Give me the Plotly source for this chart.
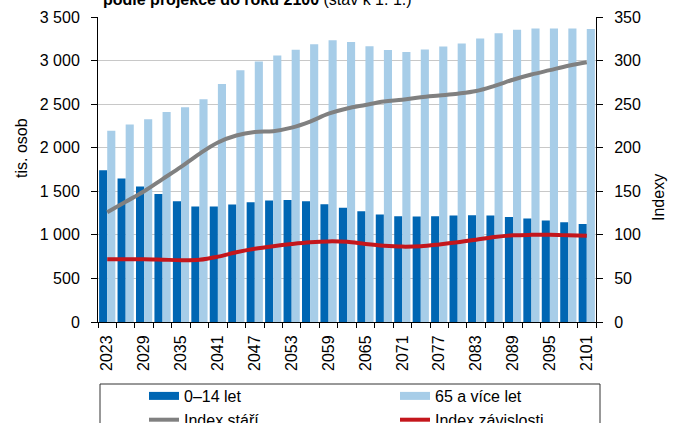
import plotly.graph_objects as go

years = [2023, 2026, 2029, 2032, 2035, 2038, 2041, 2044, 2047, 2050, 2053, 2056, 2059,
         2062, 2065, 2068, 2071, 2074, 2077, 2080, 2083, 2086, 2089, 2092, 2095, 2098, 2101]
tick_years = [2023, 2029, 2035, 2041, 2047, 2053, 2059, 2065, 2071, 2077, 2083, 2089, 2095, 2101]

kids_0_14 = [1741, 1646, 1555, 1470, 1386, 1325, 1325, 1348, 1375, 1394, 1401, 1386, 1352,
             1312, 1272, 1234, 1214, 1211, 1214, 1222, 1226, 1222, 1206, 1188, 1165, 1146, 1126]
seniors_65 = [2196, 2265, 2326, 2409, 2463, 2555, 2730, 2890, 2990, 3059, 3124, 3188, 3234,
              3213, 3165, 3122, 3097, 3128, 3162, 3196, 3253, 3314, 3353, 3368, 3368, 3368, 3361]
index_stari = [126, 138, 150, 164, 178, 193, 206, 214, 218, 219, 223, 230, 239,
               245, 249, 253, 255, 258, 260, 262, 265, 271, 278, 284, 289, 294, 298]
index_zavislosti = [72, 72, 72, 71.5, 71, 71.5, 75, 80, 84, 87, 89.5, 91.5, 92.5,
                    92, 89.5, 87.5, 86.5, 87, 89, 91.5, 94.5, 97.5, 99.5, 100, 100, 99.5, 99]

DARK = "#0066B3"
LIGHT = "#A7CDE8"
GRAY = "#808080"
RED = "#C4161C"
FONT = "Arial, 'Liberation Sans', sans-serif"

fig = go.Figure()
fig.add_bar(x=years, y=kids_0_14, name="0–14 let", marker=dict(color=DARK, line=dict(width=0)),
            showlegend=False)
fig.add_bar(x=years, y=seniors_65, name="65 a více let", marker=dict(color=LIGHT, line=dict(width=0)),
            showlegend=False)
fig.add_scatter(x=years, y=index_stari, yaxis="y2", mode="lines", name="Index stáří",
                line=dict(color=GRAY, width=4, shape="spline"), showlegend=False)
fig.add_scatter(x=years, y=index_zavislosti, yaxis="y2", mode="lines", name="Index závislosti",
                line=dict(color=RED, width=4, shape="spline"), showlegend=False)

# legend entries (two columns -> two legends)
for name, col, w, lg in [("0–14 let", DARK, 8, "legend"), ("Index stáří", GRAY, 4, "legend"),
                         ("65 a více let", LIGHT, 8, "legend2"),
                         ("Index závislosti", RED, 4, "legend2")]:
    fig.add_scatter(x=[None], y=[None], mode="lines", name=name, legend=lg,
                    line=dict(color=col, width=w), showlegend=True, hoverinfo="skip")

L, R, T, B = 98, 77, 17, 101
W, H = 673, 423
pw, ph = W - L - R, H - T - B


def px_x(p):
    return (p - L) / pw


def px_y(p):
    return (H - B - p) / ph


legend_common = dict(orientation="v", xanchor="left", y=px_y(379), yanchor="top",
                     bgcolor="rgba(0,0,0,0)", borderwidth=0, font=dict(size=16),
                     tracegroupgap=0, itemsizing="trace")

fig.update_layout(
    width=W, height=H,
    margin=dict(l=L, r=R, t=T, b=B, autoexpand=False),
    paper_bgcolor="white", plot_bgcolor="white",
    font=dict(family=FONT, size=16, color="black"),
    separators=", ",
    barmode="group", bargap=0.12, bargroupgap=0,
    showlegend=True,
    legend=dict(x=px_x(144), **legend_common),
    legend2=dict(x=px_x(395), **legend_common),
    xaxis=dict(range=[2021.5, 2102.5], tickmode="array", tickvals=tick_years,
               ticktext=[str(y) for y in tick_years], tickangle=-90, ticks="",
               showline=True, linecolor="black", linewidth=1, showgrid=False, zeroline=False,
               ticklabelstandoff=6,
               minor=dict(tickmode="linear", tick0=2021.5, dtick=3, ticks="outside",
                          ticklen=5, tickcolor="black", showgrid=False)),
    yaxis=dict(range=[0, 3500], dtick=500, tick0=0, separatethousands=True,
               showline=True, linecolor="black", linewidth=1, ticks="outside", ticklen=6,
               tickcolor="black", showgrid=True, gridcolor="#c8c8c8", gridwidth=1,
               zeroline=False, ticklabelstandoff=8),
    yaxis2=dict(range=[0, 350], dtick=50, tick0=0, overlaying="y", side="right",
                showline=True, linecolor="black", linewidth=1, ticks="outside", ticklen=6,
                tickcolor="black", showgrid=False, zeroline=False, ticklabelstandoff=8),
    annotations=[
        dict(text="<b>podle projekce do roku 2100</b> (stav k 1. 1.)", xref="paper", yref="paper",
             x=px_x(257), y=px_y(-1), xanchor="center", yanchor="middle", showarrow=False,
             font=dict(size=16)),
        dict(text="tis. osob", xref="paper", yref="paper", x=px_x(21), y=px_y(148),
             xanchor="center", yanchor="middle", textangle=-90, showarrow=False,
             font=dict(size=16)),
        dict(text="Indexy", xref="paper", yref="paper", x=px_x(659), y=px_y(198),
             xanchor="center", yanchor="middle", textangle=-90, showarrow=False,
             font=dict(size=16)),
    ],
    shapes=[
        dict(type="rect", xref="paper", yref="paper", x0=px_x(100), x1=px_x(600),
             y0=px_y(384), y1=px_y(440), line=dict(color="#333333", width=1),
             fillcolor="rgba(0,0,0,0)", layer="above"),
    ],
)

fig.write_html("out.html", config={"displayModeBar": False},
               post_script="document.body.style.margin='0';")
